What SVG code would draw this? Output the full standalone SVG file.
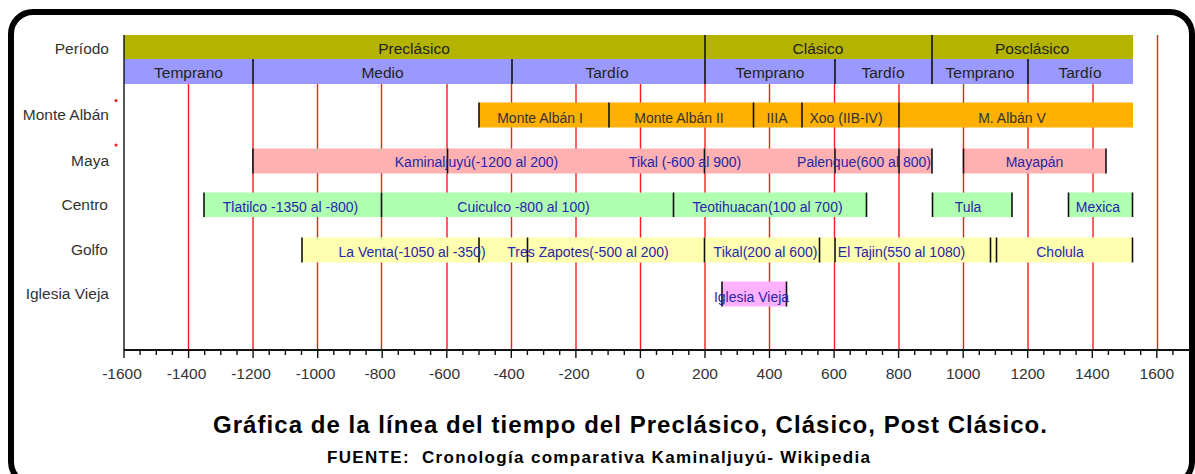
<svg xmlns="http://www.w3.org/2000/svg" width="1195" height="474" viewBox="0 0 1195 474">
<style>
text{font-family:"Liberation Sans",Arial,sans-serif}
.hd{font-size:15.5px;fill:#222;text-anchor:middle}
.rl{font-size:15.5px;fill:#333;text-anchor:end}
.bl{font-size:14px;fill:#2626a8;text-anchor:middle}
.ma{font-size:14px;fill:#333;text-anchor:middle}
.tk{font-size:15.5px;fill:#333;text-anchor:middle}
.dv{stroke:#111;stroke-width:1.6}
.grid line{stroke:#ff1a1a;stroke-width:1.4}
.ax line{stroke:#111;stroke-width:1.4}
</style>
<rect x="0" y="0" width="1195" height="474" fill="#fff"/>
<rect x="11" y="12" width="1181" height="472" rx="22" ry="22" fill="none" stroke="#000" stroke-width="6"/>

<g id="grid" class="grid">
<line x1="188.5" y1="84" x2="188.5" y2="350"/>
<line x1="253" y1="84" x2="253" y2="350"/>
<line x1="317.5" y1="84" x2="317.5" y2="350"/>
<line x1="381.5" y1="84" x2="381.5" y2="350"/>
<line x1="447" y1="84" x2="447" y2="350"/>
<line x1="511.5" y1="84" x2="511.5" y2="350"/>
<line x1="576" y1="84" x2="576" y2="350"/>
<line x1="640.5" y1="84" x2="640.5" y2="350"/>
<line x1="705" y1="84" x2="705" y2="350"/>
<line x1="769.5" y1="84" x2="769.5" y2="350"/>
<line x1="834.5" y1="84" x2="834.5" y2="350"/>
<line x1="899" y1="84" x2="899" y2="350"/>
<line x1="963.5" y1="84" x2="963.5" y2="350"/>
<line x1="1028" y1="84" x2="1028" y2="350"/>
<line x1="1093" y1="84" x2="1093" y2="350"/>
<line x1="1157.5" y1="35" x2="1157.5" y2="350"/>
</g>

<g id="header">
<text class="rl" x="109" y="53.5">Período</text>
<rect x="124" y="35" width="1009" height="24" fill="#b4b400"/>
<rect x="124" y="59" width="1009" height="25" fill="#9999ff"/>
<line class="dv" x1="705" y1="35" x2="705" y2="84"/>
<line class="dv" x1="932" y1="35" x2="932" y2="84"/>
<line class="dv" x1="253" y1="59" x2="253" y2="84"/>
<line class="dv" x1="512" y1="59" x2="512" y2="84"/>
<line class="dv" x1="835" y1="59" x2="835" y2="84"/>
<line class="dv" x1="1028" y1="59" x2="1028" y2="84"/>
<text class="hd" x="414" y="54">Preclásico</text>
<text class="hd" x="818" y="54">Clásico</text>
<text class="hd" x="1032" y="54">Posclásico</text>
<text class="hd" x="188.5" y="77.5">Temprano</text>
<text class="hd" x="382.5" y="77.5">Medio</text>
<text class="hd" x="607" y="77.5">Tardío</text>
<text class="hd" x="770" y="77.5">Temprano</text>
<text class="hd" x="883" y="77.5">Tardío</text>
<text class="hd" x="980" y="77.5">Temprano</text>
<text class="hd" x="1080" y="77.5">Tardío</text>
</g>

<g id="row-monte-alban">
<text class="rl" x="109" y="120">Monte Albán</text>
<circle cx="116" cy="100.5" r="1.6" fill="#ff2020"/>
<rect x="479" y="102.5" width="654" height="25" fill="#ffb000"/>
<line class="dv" x1="479" y1="102.5" x2="479" y2="127.5"/>
<line class="dv" x1="609" y1="102.5" x2="609" y2="127.5"/>
<line class="dv" x1="753.5" y1="102.5" x2="753.5" y2="127.5"/>
<line class="dv" x1="802" y1="102.5" x2="802" y2="127.5"/>
<line class="dv" x1="899" y1="102.5" x2="899" y2="127.5"/>
<text class="ma" x="540" y="123">Monte Albán I</text>
<text class="ma" x="679" y="123">Monte Albán II</text>
<text class="ma" x="777" y="123">IIIA</text>
<text class="ma" x="846" y="123">Xoo (IIB-IV)</text>
<text class="ma" x="1012" y="123">M. Albán V</text>
</g>

<g id="row-maya">
<text class="rl" x="109" y="166">Maya</text>
<circle cx="116" cy="145" r="1.6" fill="#ff2020"/>
<rect x="253" y="148.5" width="679" height="25" fill="#ffb0b0"/>
<rect x="963" y="148.5" width="143" height="25" fill="#ffb0b0"/>
<line class="dv" x1="253" y1="148.5" x2="253" y2="173.5"/>
<line class="dv" x1="447.5" y1="148.5" x2="447.5" y2="173.5"/>
<line class="dv" x1="704.5" y1="148.5" x2="704.5" y2="173.5"/>
<line class="dv" x1="835" y1="148.5" x2="835" y2="173.5"/>
<line class="dv" x1="899" y1="148.5" x2="899" y2="173.5"/>
<line class="dv" x1="932" y1="148.5" x2="932" y2="173.5"/>
<line class="dv" x1="963.5" y1="148.5" x2="963.5" y2="173.5"/>
<line class="dv" x1="1106" y1="148.5" x2="1106" y2="173.5"/>
<text class="bl" x="476.5" y="166.5">Kaminaljuyú(-1200 al 200)</text>
<text class="bl" x="685" y="166.5">Tikal (-600 al 900)</text>
<text class="bl" x="864" y="166.5">Palenque(600 al 800)</text>
<text class="bl" x="1034.5" y="166.5">Mayapán</text>
</g>

<g id="row-centro">
<text class="rl" x="108" y="210">Centro</text>
<rect x="204" y="192.5" width="662.5" height="24.5" fill="#b0ffb0"/>
<rect x="932" y="192.5" width="80" height="24.5" fill="#b0ffb0"/>
<rect x="1068.5" y="192.5" width="64.5" height="24.5" fill="#b0ffb0"/>
<line class="dv" x1="204" y1="192.5" x2="204" y2="217"/>
<line class="dv" x1="381.5" y1="192.5" x2="381.5" y2="217"/>
<line class="dv" x1="673.5" y1="192.5" x2="673.5" y2="217"/>
<line class="dv" x1="866.5" y1="192.5" x2="866.5" y2="217"/>
<line class="dv" x1="932.5" y1="192.5" x2="932.5" y2="217"/>
<line class="dv" x1="1012" y1="192.5" x2="1012" y2="217"/>
<line class="dv" x1="1068.5" y1="192.5" x2="1068.5" y2="217"/>
<line class="dv" x1="1132.5" y1="192.5" x2="1132.5" y2="217"/>
<text class="bl" x="290.5" y="212">Tlatilco -1350 al -800)</text>
<text class="bl" x="523.5" y="212">Cuiculco -800 al 100)</text>
<text class="bl" x="767.5" y="212">Teotihuacan(100 al 700)</text>
<text class="bl" x="968" y="212">Tula</text>
<text class="bl" x="1098" y="212">Mexica</text>
</g>

<g id="row-golfo">
<text class="rl" x="108" y="255">Golfo</text>
<rect x="302" y="237.5" width="831" height="25" fill="#ffffb0"/>
<line class="dv" x1="302" y1="237.5" x2="302" y2="262.5"/>
<line class="dv" x1="479" y1="237.5" x2="479" y2="262.5"/>
<line class="dv" x1="527.5" y1="237.5" x2="527.5" y2="262.5"/>
<line class="dv" x1="704.5" y1="237.5" x2="704.5" y2="262.5"/>
<line class="dv" x1="819.5" y1="237.5" x2="819.5" y2="262.5"/>
<line class="dv" x1="835" y1="237.5" x2="835" y2="262.5"/>
<line class="dv" x1="990.5" y1="237.5" x2="990.5" y2="262.5"/>
<line class="dv" x1="996.5" y1="237.5" x2="996.5" y2="262.5"/>
<line class="dv" x1="1132.5" y1="237.5" x2="1132.5" y2="262.5"/>
<text class="bl" x="412" y="256.5">La Venta(-1050 al -350)</text>
<text class="bl" x="588" y="256.5">Tres Zapotes(-500 al 200)</text>
<text class="bl" x="765.5" y="256.5">Tikal(200 al 600)</text>
<text class="bl" x="901.5" y="256.5">El Tajin(550 al 1080)</text>
<text class="bl" x="1060" y="256.5">Cholula</text>
</g>

<g id="row-iglesia-vieja">
<text class="rl" x="109" y="299">Iglesia Vieja</text>
<rect x="722" y="281.5" width="64.5" height="25" fill="#ffb0ff"/>
<line class="dv" x1="722" y1="281.5" x2="722" y2="306.5"/>
<line class="dv" x1="786.5" y1="281.5" x2="786.5" y2="306.5"/>
<text class="bl" x="751.5" y="301.5">Iglesia Vieja</text>
</g>

<g id="axis" class="ax">
<line x1="124" y1="35" x2="124" y2="350"/>
<line x1="124" y1="350" x2="1190" y2="350" style="stroke-width:1.8"/>
<g>
<line x1="124" y1="350" x2="124" y2="358"/><line x1="140.1" y1="350" x2="140.1" y2="355"/><line x1="156.3" y1="350" x2="156.3" y2="355"/><line x1="172.4" y1="350" x2="172.4" y2="355"/>
<line x1="188.6" y1="350" x2="188.6" y2="358"/><line x1="204.7" y1="350" x2="204.7" y2="355"/><line x1="220.8" y1="350" x2="220.8" y2="355"/><line x1="237" y1="350" x2="237" y2="355"/>
<line x1="253.1" y1="350" x2="253.1" y2="358"/><line x1="269.2" y1="350" x2="269.2" y2="355"/><line x1="285.4" y1="350" x2="285.4" y2="355"/><line x1="301.5" y1="350" x2="301.5" y2="355"/>
<line x1="317.7" y1="350" x2="317.7" y2="358"/><line x1="333.8" y1="350" x2="333.8" y2="355"/><line x1="349.9" y1="350" x2="349.9" y2="355"/><line x1="366.1" y1="350" x2="366.1" y2="355"/>
<line x1="382.2" y1="350" x2="382.2" y2="358"/><line x1="398.3" y1="350" x2="398.3" y2="355"/><line x1="414.5" y1="350" x2="414.5" y2="355"/><line x1="430.6" y1="350" x2="430.6" y2="355"/>
<line x1="446.8" y1="350" x2="446.8" y2="358"/><line x1="462.9" y1="350" x2="462.9" y2="355"/><line x1="479" y1="350" x2="479" y2="355"/><line x1="495.2" y1="350" x2="495.2" y2="355"/>
<line x1="511.3" y1="350" x2="511.3" y2="358"/><line x1="527.4" y1="350" x2="527.4" y2="355"/><line x1="543.6" y1="350" x2="543.6" y2="355"/><line x1="559.7" y1="350" x2="559.7" y2="355"/>
<line x1="575.9" y1="350" x2="575.9" y2="358"/><line x1="592" y1="350" x2="592" y2="355"/><line x1="608.1" y1="350" x2="608.1" y2="355"/><line x1="624.3" y1="350" x2="624.3" y2="355"/>
<line x1="640.4" y1="350" x2="640.4" y2="358"/><line x1="656.5" y1="350" x2="656.5" y2="355"/><line x1="672.7" y1="350" x2="672.7" y2="355"/><line x1="688.8" y1="350" x2="688.8" y2="355"/>
<line x1="705" y1="350" x2="705" y2="358"/><line x1="721.1" y1="350" x2="721.1" y2="355"/><line x1="737.2" y1="350" x2="737.2" y2="355"/><line x1="753.4" y1="350" x2="753.4" y2="355"/>
<line x1="769.5" y1="350" x2="769.5" y2="358"/><line x1="785.6" y1="350" x2="785.6" y2="355"/><line x1="801.8" y1="350" x2="801.8" y2="355"/><line x1="817.9" y1="350" x2="817.9" y2="355"/>
<line x1="834.1" y1="350" x2="834.1" y2="358"/><line x1="850.2" y1="350" x2="850.2" y2="355"/><line x1="866.3" y1="350" x2="866.3" y2="355"/><line x1="882.5" y1="350" x2="882.5" y2="355"/>
<line x1="898.6" y1="350" x2="898.6" y2="358"/><line x1="914.7" y1="350" x2="914.7" y2="355"/><line x1="930.9" y1="350" x2="930.9" y2="355"/><line x1="947" y1="350" x2="947" y2="355"/>
<line x1="963.2" y1="350" x2="963.2" y2="358"/><line x1="979.3" y1="350" x2="979.3" y2="355"/><line x1="995.4" y1="350" x2="995.4" y2="355"/><line x1="1011.6" y1="350" x2="1011.6" y2="355"/>
<line x1="1027.7" y1="350" x2="1027.7" y2="358"/><line x1="1043.8" y1="350" x2="1043.8" y2="355"/><line x1="1060" y1="350" x2="1060" y2="355"/><line x1="1076.1" y1="350" x2="1076.1" y2="355"/>
<line x1="1092.3" y1="350" x2="1092.3" y2="358"/><line x1="1108.4" y1="350" x2="1108.4" y2="355"/><line x1="1124.5" y1="350" x2="1124.5" y2="355"/><line x1="1140.7" y1="350" x2="1140.7" y2="355"/>
<line x1="1156.8" y1="350" x2="1156.8" y2="358"/><line x1="1172.9" y1="350" x2="1172.9" y2="355"/>
</g>
<text class="tk" x="122" y="379">-1600</text>
<text class="tk" x="186.5" y="379">-1400</text>
<text class="tk" x="251" y="379">-1200</text>
<text class="tk" x="315.5" y="379">-1000</text>
<text class="tk" x="380" y="379">-800</text>
<text class="tk" x="444.5" y="379">-600</text>
<text class="tk" x="509" y="379">-400</text>
<text class="tk" x="574" y="379">-200</text>
<text class="tk" x="640.4" y="379">0</text>
<text class="tk" x="705" y="379">200</text>
<text class="tk" x="769.5" y="379">400</text>
<text class="tk" x="834" y="379">600</text>
<text class="tk" x="898.6" y="379">800</text>
<text class="tk" x="963.2" y="379">1000</text>
<text class="tk" x="1027.7" y="379">1200</text>
<text class="tk" x="1092.3" y="379">1400</text>
<text class="tk" x="1156.8" y="379">1600</text>
</g>

<g id="title">
<text x="213" y="433" font-size="24" font-weight="bold" fill="#000" textLength="834" lengthAdjust="spacing">Gráfica de la línea del tiempo del Preclásico, Clásico, Post Clásico.</text>
<text x="327" y="463" font-size="17" font-weight="bold" fill="#000" textLength="543" lengthAdjust="spacing" xml:space="preserve">FUENTE:  Cronología comparativa Kaminaljuyú- Wikipedia</text>
</g>
</svg>
